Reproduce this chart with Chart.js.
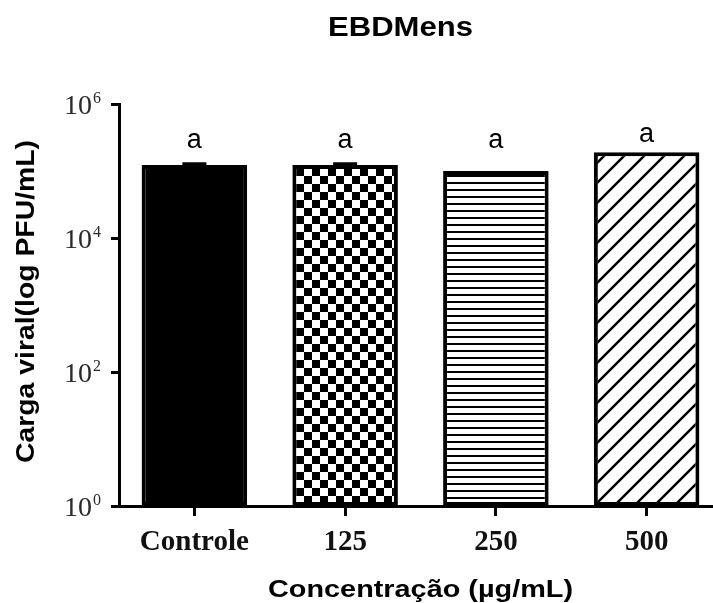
<!DOCTYPE html>
<html>
<head>
<meta charset="utf-8">
<script src="https://cdn.jsdelivr.net/npm/chart.js@4.4.1/dist/chart.umd.min.js"></script>
<style>
  html, body { margin: 0; padding: 0; background: #fff; overflow: hidden; }
  #wrap { width: 722px; height: 603px; }
</style>
</head>
<body>
<div id="wrap"><canvas id="viralChart"></canvas></div>
<script>
// values
const categories = ["Controle", "125", "250", "500"];
const viralLoad = [1.23e5, 1.23e5, 1.0e5, 1.91e5];
const errorUpper = [1.28e5, 1.28e5, 1.0e5, 1.91e5];
const sigLetters = ["a", "a", "a", "a"];
const yTickValues = [1, 1e2, 1e4, 1e6];

function makePattern(kind) {
    const c = document.createElement("canvas");
    const g = c.getContext("2d");
    if (kind === "checker") {
        c.width = c.height = 16;
        g.fillStyle = "#fff"; g.fillRect(0, 0, 16, 16);
        g.fillStyle = "#000";
        g.fillRect(0, 0, 8, 8); g.fillRect(8, 8, 8, 8);
    } else if (kind === "hstripe") {
        c.width = 8; c.height = 7;
        g.fillStyle = "#fff"; g.fillRect(0, 0, 8, 7);
        g.fillStyle = "#000"; g.fillRect(0, 0, 8, 2);
    } else if (kind === "diag") {
        c.width = c.height = 20;
        g.fillStyle = "#fff"; g.fillRect(0, 0, 20, 20);
        g.strokeStyle = "#000"; g.lineWidth = 2.5;
        g.beginPath();
        g.moveTo(-5, 25); g.lineTo(25, -5);
        g.moveTo(-25, 25); g.lineTo(5, -5);
        g.moveTo(15, 25); g.lineTo(45, -5);
        g.stroke();
    } else {
        return "#000";
    }
    return document.getElementById("viralChart").getContext("2d").createPattern(c, "repeat");
}

// draw text squeezed/stretched to a given width
function fitText(ctx, text, cx, baseline, font, width, angle) {
    ctx.save();
    ctx.font = font;
    const w = ctx.measureText(text).width;
    ctx.translate(cx, baseline);
    if (angle) ctx.rotate(angle);
    ctx.scale(width / w, 1);
    ctx.textAlign = "center";
    ctx.textBaseline = "alphabetic";
    ctx.fillStyle = "#000";
    ctx.fillText(text, 0, 0);
    ctx.restore();
}

const decorPlugin = {
    id: "decor",
    afterDatasetsDraw(chart) {
        const ctx = chart.ctx;
        const x = chart.scales.x, y = chart.scales.y;
        const top = chart.chartArea.top;
        ctx.save();
        ctx.strokeStyle = "#000";
        ctx.lineWidth = 3;
        categories.forEach((cat, i) => {
            const cx = x.getPixelForValue(i);
            const yv = y.getPixelForValue(viralLoad[i]);
            if (errorUpper[i] > viralLoad[i]) {
                const ye = y.getPixelForValue(errorUpper[i]);
                ctx.beginPath();
                ctx.moveTo(cx, yv); ctx.lineTo(cx, ye);
                ctx.moveTo(cx - 12, ye); ctx.lineTo(cx + 12, ye);
                ctx.stroke();
            }

            ctx.font = "27px 'Liberation Sans', Arial, sans-serif";
            ctx.fillStyle = "#000";
            ctx.textAlign = "center";
            ctx.textBaseline = "alphabetic";
            ctx.fillText(sigLetters[i], cx, Math.min(top + 44, yv - 10));
        });
        ctx.restore();
    },
    afterDraw(chart) {
        const ctx = chart.ctx;
        const y = chart.scales.y;
        ctx.save();
        ctx.fillStyle = "#2a2a2a";
        yTickValues.forEach(v => {
            const py = y.getPixelForValue(v);
            ctx.font = "28px 'Liberation Serif', 'Times New Roman', serif";
            ctx.textAlign = "right";
            ctx.textBaseline = "alphabetic";
            ctx.fillText("10", 92, py + 10);
            ctx.font = "16px 'Liberation Serif', 'Times New Roman', serif";
            ctx.textAlign = "left";
            ctx.fillText(String(Math.round(Math.log10(v))), 93, py - 1);
        });
        ctx.restore();

        fitText(ctx, "EBDMens", 400.5, 36, "bold 28px 'Liberation Sans', Arial, sans-serif", 145);
        fitText(ctx, "Concentração (µg/mL)", 420.5, 597, "bold 24px 'Liberation Sans', Arial, sans-serif", 305);
        fitText(ctx, "Carga viral(log PFU/mL)", 34, 301.5, "bold 25px 'Liberation Sans', Arial, sans-serif", 323, -Math.PI / 2);
    }
};

const ctx = document.getElementById("viralChart").getContext("2d");

new Chart(ctx, {
    type: "bar",
    data: {
        labels: categories,
        datasets: [{
            data: viralLoad,
            backgroundColor: ["solid", "checker", "hstripe", "diag"].map(makePattern),
            borderColor: "#000",
            borderWidth: 4,
            borderSkipped: false,
            barPercentage: 0.7,
            categoryPercentage: 1
        }]
    },
    options: {
        responsive: true,
        maintainAspectRatio: false,
        animation: false,
        layout: { padding: { top: 104, left: 0, right: 0, bottom: 0 } },
        plugins: {
            legend: { display: false },
            tooltip: { enabled: false },
            title: { display: false }
        },
        scales: {
            x: {
                offset: true,
                grid: { display: true, offset: false, drawOnChartArea: false, drawTicks: true, tickLength: 10, lineWidth: 3, color: "#000" },
                border: { display: true, width: 3, color: "#000" },
                ticks: {
                    color: "#111",
                    padding: 9,
                    font: { family: "'Liberation Serif', 'Times New Roman', serif", size: 29, weight: "bold" }
                },
                afterFit: s => { s.height = 97; }
            },
            y: {
                type: "logarithmic",
                min: 1,
                max: 1e6,
                afterBuildTicks: s => { s.ticks = yTickValues.map(v => ({ value: v })); },
                ticks: { display: false },
                grid: { display: true, drawOnChartArea: false, drawTicks: true, tickLength: 8, lineWidth: 3, color: "#000" },
                border: { display: true, width: 3, color: "#000" },
                afterFit: s => { s.width = 119; }
            }
        }
    },
    plugins: [decorPlugin]
});
</script>
</body>
</html>
